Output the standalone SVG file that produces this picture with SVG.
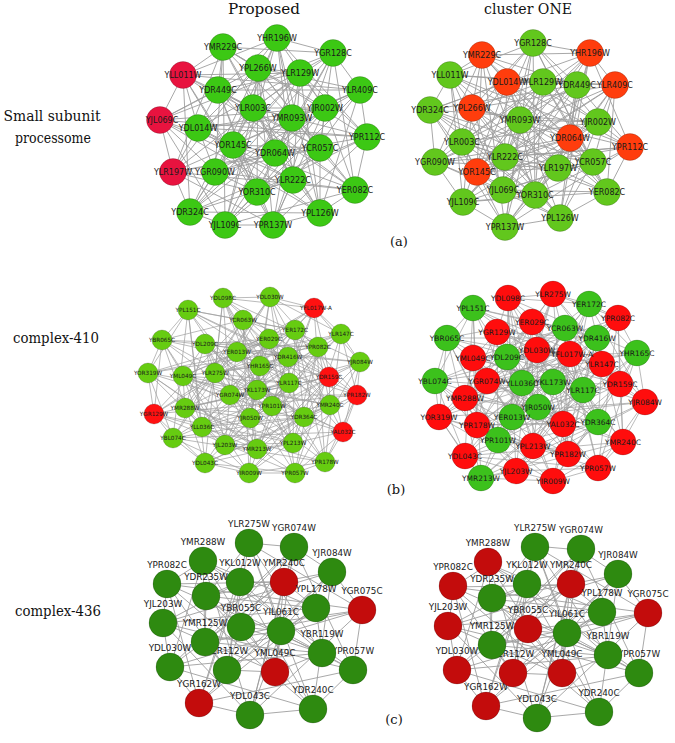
<svg xmlns="http://www.w3.org/2000/svg" width="675" height="743" viewBox="0 0 675 743">
<style>
.e{fill:none;stroke:#9e9e9e;stroke-width:0.9;stroke-linejoin:round}
.eb{stroke-width:0.7}
circle{stroke:#000;stroke-opacity:.22;stroke-width:.8}
text.t{font-family:"DejaVu Sans","Liberation Sans",sans-serif;fill:#1a1a1a;text-anchor:middle}
.ta text{font-size:8px}
.tbl text{font-size:5.7px}
.tbr text{font-size:7.5px}
.tc text{font-size:8.8px}
.h{font-family:"DejaVu Serif","Liberation Serif",serif;font-size:15.5px;fill:#111;text-anchor:middle}
.gA{fill:#3cc814}.rA{fill:#e8133f}
.gA2{fill:#62c71d}.rA2{fill:#ff3d0d}
.gB{fill:#66cc11}.rB{fill:#ff1111}
.gB2{fill:#3cc11c}.rB2{fill:#ff0d0d}
.gC{fill:#2e8a10}.rC{fill:#c30c0c}
</style>
<rect width="675" height="743" fill="#fff"/>
<g id="headings">
<text class="h" x="264" y="14" textLength="72" lengthAdjust="spacingAndGlyphs">Proposed</text>
<text class="h" x="528" y="14" textLength="88" lengthAdjust="spacingAndGlyphs">cluster ONE</text>
<text class="h" x="52" y="121" textLength="97" lengthAdjust="spacingAndGlyphs">Small subunit</text>
<text class="h" x="53" y="143" textLength="76" lengthAdjust="spacingAndGlyphs">processome</text>
<text class="h" x="56" y="343" textLength="86" lengthAdjust="spacingAndGlyphs">complex-410</text>
<text class="h" x="58" y="616" textLength="86" lengthAdjust="spacingAndGlyphs">complex-436</text>
<text class="h" x="399" y="246" style="font-size:13px">(a)</text>
<text class="h" x="396" y="494" style="font-size:13px">(b)</text>
<text class="h" x="394" y="724" style="font-size:13px">(c)</text>
</g>
<g id="connectors">
<path id="edges-a-left" class="e" d="M277 38L333 53L360 90L367 137L355 190L320 213L273 225L225 225L190 212L173 172L160 120L183 75L223 47L258 68L300 73L325 108L320 148L293 180L257 192L215 172L198 128L218 90L253 108L292 118L275 153L233 145Z
M277 38L367 137L273 225L173 172L223 47L325 108L257 192L218 90L275 153L333 53L355 190L225 225L160 120L258 68L320 148L215 172L253 108L233 145L360 90L320 213L190 212L183 75L300 73L293 180L198 128L292 118Z
M277 38L320 213L160 120L325 108L198 128L233 145L355 190L173 172L300 73L215 172L275 153L367 137L190 212L258 68L257 192L292 118L360 90L225 225L223 47L293 180L253 108L333 53L273 225L183 75L320 148L218 90Z
M277 38L225 225L300 73L218 90L360 90L173 172L320 148L292 118L355 190L183 75L257 192L233 145L273 225L258 68L198 128L333 53L190 212L325 108L253 108L367 137L160 120L293 180L275 153L320 213L223 47L215 172Z
M277 38L173 172L257 192L333 53L160 120L215 172L360 90L183 75L198 128L367 137L223 47L218 90L355 190L258 68L253 108L320 213L300 73L292 118L273 225L325 108L275 153L225 225L320 148L233 145L190 212L293 180Z
M277 38L183 75L253 108L225 225L257 192L367 137L300 73L233 145L160 120L218 90L273 225L293 180L360 90L258 68L275 153L173 172L198 128L320 213L320 148L333 53L223 47L292 118L190 212L215 172L355 190L325 108Z"/>
<path id="edges-a-right" class="e" d="M533 43L590 53L615 85L598 122L630 147L607 192L560 218L505 227L463 202L435 162L430 110L450 75L482 55L507 82L543 82L577 85L570 138L593 162L558 168L535 195L503 190L477 172L462 142L472 108L520 120L505 157Z
M533 43L598 122L560 218L435 162L482 55L577 85L558 168L477 172L520 120L590 53L630 147L505 227L430 110L507 82L570 138L535 195L462 142L505 157L615 85L607 192L463 202L450 75L543 82L593 162L503 190L472 108Z
M533 43L607 192L430 110L577 85L503 190L505 157L630 147L435 162L543 82L535 195L520 120L598 122L463 202L507 82L558 168L472 108L615 85L505 227L482 55L593 162L462 142L590 53L560 218L450 75L570 138L477 172Z
M533 43L505 227L543 82L477 172L615 85L435 162L570 138L472 108L630 147L450 75L558 168L505 157L560 218L507 82L503 190L590 53L463 202L577 85L462 142L598 122L430 110L593 162L520 120L607 192L482 55L535 195Z
M533 43L435 162L558 168L590 53L430 110L535 195L615 85L450 75L503 190L598 122L482 55L477 172L630 147L507 82L462 142L607 192L543 82L472 108L560 218L577 85L520 120L505 227L570 138L505 157L463 202L593 162Z
M533 43L450 75L462 142L505 227L558 168L598 122L543 82L505 157L430 110L477 172L560 218L593 162L615 85L507 82L520 120L435 162L503 190L607 192L570 138L590 53L482 55L472 108L463 202L535 195L630 147L577 85Z"/>
<path id="edges-b-left" class="e eb" d="M223 298L270 297L314 308L341 334L360 362L357 395L343 432L325 462L295 473L249 473L205 463L173 438L154 414L148 373L162 340L188 310L243 320L295 330L318 347L329 377L330 405L304 417L293 443L257 449L225 445L202 427L185 408L183 376L205 344L269 339L288 357L289 383L272 406L250 418L230 395L215 373L237 352L260 366L257 390Z
M223 298L314 308L360 362L343 432L295 473L205 463L154 414L162 340L243 320L318 347L330 405L293 443L225 445L185 408L205 344L288 357L272 406L230 395L237 352L257 390L270 297L341 334L357 395L325 462L249 473L173 438L148 373L188 310L295 330L329 377L304 417L257 449L202 427L183 376L269 339L289 383L250 418L215 373L260 366Z
M223 298L360 362L295 473L154 414L243 320L330 405L225 445L205 344L272 406L237 352L270 297L357 395L249 473L148 373L295 330L304 417L202 427L269 339L250 418L260 366L314 308L343 432L205 463L162 340L318 347L293 443L185 408L288 357L230 395L257 390L341 334L325 462L173 438L188 310L329 377L257 449L183 376L289 383L215 373Z
M223 298L357 395L205 463L188 310L330 405L202 427L288 357L215 373L270 297L343 432L173 438L243 320L304 417L185 408L289 383L237 352L314 308L325 462L154 414L295 330L293 443L183 376L272 406L260 366L341 334L295 473L148 373L318 347L257 449L205 344L250 418L257 390L360 362L249 473L162 340L329 377L225 445L269 339L230 395Z
M223 298L325 462L162 340L304 417L205 344L215 373L341 334L205 463L295 330L225 445L289 383L257 390L343 432L148 373L330 405L183 376L230 395L314 308L249 473L243 320L257 449L288 357L260 366L357 395L154 414L329 377L185 408L250 418L270 297L295 473L188 310L293 443L269 339L237 352L360 362L173 438L318 347L202 427L272 406Z
M223 298L205 463L330 405L288 357L270 297L173 438L304 417L289 383L314 308L154 414L293 443L272 406L341 334L148 373L257 449L250 418L360 362L162 340L225 445L230 395L357 395L188 310L202 427L215 373L343 432L243 320L185 408L237 352L325 462L295 330L183 376L260 366L295 473L318 347L205 344L257 390L249 473L329 377L269 339Z"/>
<path id="edges-b-right" class="e eb" d="M508 298L553 294L589 304L618 318L637 353L620 384L645 402L623 442L598 468L553 481L516 471L481 478L465 456L439 417L435 381L447 338L473 308L532 322L565 328L597 338L602 364L583 390L598 422L568 454L533 446L498 440L477 425L465 398L473 358L497 332L537 350L570 354L553 382L563 424L538 407L512 417L487 381L522 383L507 357Z
M508 298L589 304L637 353L645 402L598 468L516 471L465 456L435 381L473 308L565 328L602 364L598 422L533 446L477 425L473 358L537 350L553 382L538 407L487 381L507 357L553 294L618 318L620 384L623 442L553 481L481 478L439 417L447 338L532 322L597 338L583 390L568 454L498 440L465 398L497 332L570 354L563 424L512 417L522 383Z
M508 298L637 353L598 468L465 456L473 308L602 364L533 446L473 358L553 382L487 381L553 294L620 384L553 481L439 417L532 322L583 390L498 440L497 332L563 424L522 383L589 304L645 402L516 471L435 381L565 328L598 422L477 425L537 350L538 407L507 357L618 318L623 442L481 478L447 338L597 338L568 454L465 398L570 354L512 417Z
M508 298L620 384L516 471L447 338L602 364L498 440L537 350L512 417L553 294L645 402L481 478L473 308L583 390L477 425L570 354L487 381L589 304L623 442L465 456L532 322L598 422L465 398L553 382L522 383L618 318L598 468L439 417L565 328L568 454L473 358L563 424L507 357L637 353L553 481L435 381L597 338L533 446L497 332L538 407Z
M508 298L623 442L435 381L583 390L473 358L512 417L618 318L516 471L532 322L533 446L570 354L507 357L645 402L439 417L602 364L465 398L538 407L589 304L553 481L473 308L568 454L537 350L522 383L620 384L465 456L597 338L477 425L563 424L553 294L598 468L447 338L598 422L497 332L487 381L637 353L481 478L565 328L498 440L553 382Z
M508 298L516 471L602 364L537 350L553 294L481 478L583 390L570 354L589 304L465 456L598 422L553 382L618 318L439 417L568 454L563 424L637 353L435 381L533 446L538 407L620 384L447 338L498 440L512 417L645 402L473 308L477 425L487 381L623 442L532 322L465 398L522 383L598 468L565 328L473 358L507 357L553 481L597 338L497 332Z"/>
<path id="edges-c-left" class="e" d="M249 543L294 547L332 572L362 610L353 670L313 709L250 715L199 703L170 667L163 623L167 584L203 561L240 582L284 582L316 608L322 653L275 672L227 670L205 642L206 596L241 627L281 631Z
M249 543L362 610L250 715L163 623L240 582L322 653L205 642L281 631L332 572L313 709L170 667L203 561L316 608L227 670L241 627L294 547L353 670L199 703L167 584L284 582L275 672L206 596Z
M249 543L313 709L167 584L322 653L241 627L362 610L170 667L284 582L205 642L294 547L250 715L203 561L275 672L281 631L353 670L163 623L316 608L206 596L332 572L199 703L240 582L227 670Z
M249 543L199 703L316 608L281 631L250 715L284 582L241 627L313 709L240 582L206 596L353 670L203 561L205 642L362 610L167 584L227 670L332 572L163 623L275 672L294 547L170 667L322 653Z"/>
<use id="edges-c-right" href="#edges-c-left" transform="translate(286 3)"/>
</g>
<g id="nodes-a-left" class="ta">
<g id="aL-YHR196W"><circle class="gA" cx="277" cy="38" r="13.5"/><text class="t" x="277" y="41">YHR196W</text></g>
<g id="aL-YGR128C"><circle class="gA" cx="333" cy="53" r="13.5"/><text class="t" x="333" y="56">YGR128C</text></g>
<g id="aL-YLR409C"><circle class="gA" cx="360" cy="90" r="13.5"/><text class="t" x="360" y="93">YLR409C</text></g>
<g id="aL-YPR112C"><circle class="gA" cx="367" cy="137" r="13.5"/><text class="t" x="367" y="140">YPR112C</text></g>
<g id="aL-YER082C"><circle class="gA" cx="355" cy="190" r="13.5"/><text class="t" x="355" y="193">YER082C</text></g>
<g id="aL-YPL126W"><circle class="gA" cx="320" cy="213" r="13.5"/><text class="t" x="320" y="216">YPL126W</text></g>
<g id="aL-YPR137W"><circle class="gA" cx="273" cy="225" r="13.5"/><text class="t" x="273" y="228">YPR137W</text></g>
<g id="aL-YJL109C"><circle class="gA" cx="225" cy="225" r="13.5"/><text class="t" x="225" y="228">YJL109C</text></g>
<g id="aL-YDR324C"><circle class="gA" cx="190" cy="212" r="13.5"/><text class="t" x="190" y="215">YDR324C</text></g>
<g id="aL-YLR197W"><circle class="rA" cx="173" cy="172" r="13.5"/><text class="t" x="173" y="175">YLR197W</text></g>
<g id="aL-YJL069C"><circle class="rA" cx="160" cy="120" r="13.5"/><text class="t" x="162" y="123">YJL069C</text></g>
<g id="aL-YLL011W"><circle class="rA" cx="183" cy="75" r="13.5"/><text class="t" x="183" y="78">YLL011W</text></g>
<g id="aL-YMR229C"><circle class="gA" cx="223" cy="47" r="13.5"/><text class="t" x="223" y="50">YMR229C</text></g>
<g id="aL-YPL266W"><circle class="gA" cx="258" cy="68" r="13.5"/><text class="t" x="258" y="71">YPL266W</text></g>
<g id="aL-YLR129W"><circle class="gA" cx="300" cy="73" r="13.5"/><text class="t" x="300" y="76">YLR129W</text></g>
<g id="aL-YJR002W"><circle class="gA" cx="325" cy="108" r="13.5"/><text class="t" x="325" y="111">YJR002W</text></g>
<g id="aL-YCR057C"><circle class="gA" cx="320" cy="148" r="13.5"/><text class="t" x="320" y="151">YCR057C</text></g>
<g id="aL-YLR222C"><circle class="gA" cx="293" cy="180" r="13.5"/><text class="t" x="293" y="183">YLR222C</text></g>
<g id="aL-YOR310C"><circle class="gA" cx="257" cy="192" r="13.5"/><text class="t" x="257" y="195">YOR310C</text></g>
<g id="aL-YGR090W"><circle class="gA" cx="215" cy="172" r="13.5"/><text class="t" x="215" y="175">YGR090W</text></g>
<g id="aL-YDL014W"><circle class="gA" cx="198" cy="128" r="13.5"/><text class="t" x="198" y="131">YDL014W</text></g>
<g id="aL-YDR449C"><circle class="gA" cx="218" cy="90" r="13.5"/><text class="t" x="218" y="93">YDR449C</text></g>
<g id="aL-YLR003C"><circle class="gA" cx="253" cy="108" r="13.5"/><text class="t" x="253" y="111">YLR003C</text></g>
<g id="aL-YMR093W"><circle class="gA" cx="292" cy="118" r="13.5"/><text class="t" x="292" y="121">YMR093W</text></g>
<g id="aL-YDR064W"><circle class="gA" cx="275" cy="153" r="13.5"/><text class="t" x="275" y="156">YDR064W</text></g>
<g id="aL-YOR145C"><circle class="gA" cx="233" cy="145" r="13.5"/><text class="t" x="233" y="148">YOR145C</text></g>
</g>
<g id="nodes-a-right" class="ta">
<g id="aR-YGR128C"><circle class="gA2" cx="533" cy="43" r="13.5"/><text class="t" x="533" y="46">YGR128C</text></g>
<g id="aR-YHR196W"><circle class="rA2" cx="590" cy="53" r="13.5"/><text class="t" x="590" y="56">YHR196W</text></g>
<g id="aR-YLR409C"><circle class="rA2" cx="615" cy="85" r="13.5"/><text class="t" x="615" y="88">YLR409C</text></g>
<g id="aR-YJR002W"><circle class="gA2" cx="598" cy="122" r="13.5"/><text class="t" x="598" y="125">YJR002W</text></g>
<g id="aR-YPR112C"><circle class="rA2" cx="630" cy="147" r="13.5"/><text class="t" x="630" y="150">YPR112C</text></g>
<g id="aR-YER082C"><circle class="gA2" cx="607" cy="192" r="13.5"/><text class="t" x="607" y="195">YER082C</text></g>
<g id="aR-YPL126W"><circle class="gA2" cx="560" cy="218" r="13.5"/><text class="t" x="560" y="221">YPL126W</text></g>
<g id="aR-YPR137W"><circle class="gA2" cx="505" cy="227" r="13.5"/><text class="t" x="505" y="230">YPR137W</text></g>
<g id="aR-YJL109C"><circle class="gA2" cx="463" cy="202" r="13.5"/><text class="t" x="463" y="205">YJL109C</text></g>
<g id="aR-YGR090W"><circle class="gA2" cx="435" cy="162" r="13.5"/><text class="t" x="435" y="165">YGR090W</text></g>
<g id="aR-YDR324C"><circle class="gA2" cx="430" cy="110" r="13.5"/><text class="t" x="430" y="113">YDR324C</text></g>
<g id="aR-YLL011W"><circle class="gA2" cx="450" cy="75" r="13.5"/><text class="t" x="450" y="78">YLL011W</text></g>
<g id="aR-YMR229C"><circle class="rA2" cx="482" cy="55" r="13.5"/><text class="t" x="482" y="58">YMR229C</text></g>
<g id="aR-YLR129W"><circle class="gA2" cx="543" cy="82" r="13.5"/><text class="t" x="543" y="85">YLR129W</text></g>
<g id="aR-YDL014W"><circle class="rA2" cx="507" cy="82" r="13.5"/><text class="t" x="507" y="85">YDL014W</text></g>
<g id="aR-YDR449C"><circle class="gA2" cx="577" cy="85" r="13.5"/><text class="t" x="577" y="88">YDR449C</text></g>
<g id="aR-YDR064W"><circle class="rA2" cx="570" cy="138" r="13.5"/><text class="t" x="570" y="141">YDR064W</text></g>
<g id="aR-YCR057C"><circle class="gA2" cx="593" cy="162" r="13.5"/><text class="t" x="593" y="165">YCR057C</text></g>
<g id="aR-YLR197W"><circle class="gA2" cx="558" cy="168" r="13.5"/><text class="t" x="558" y="171">YLR197W</text></g>
<g id="aR-YOR310C"><circle class="gA2" cx="535" cy="195" r="13.5"/><text class="t" x="535" y="198">YOR310C</text></g>
<g id="aR-YJL069C"><circle class="gA2" cx="503" cy="190" r="13.5"/><text class="t" x="503" y="193">YJL069C</text></g>
<g id="aR-YOR145C"><circle class="rA2" cx="477" cy="172" r="13.5"/><text class="t" x="477" y="175">YOR145C</text></g>
<g id="aR-YLR003C"><circle class="gA2" cx="462" cy="142" r="13.5"/><text class="t" x="462" y="145">YLR003C</text></g>
<g id="aR-YPL266W"><circle class="rA2" cx="472" cy="108" r="13.5"/><text class="t" x="472" y="111">YPL266W</text></g>
<g id="aR-YMR093W"><circle class="gA2" cx="520" cy="120" r="13.5"/><text class="t" x="520" y="123">YMR093W</text></g>
<g id="aR-YLR222C"><circle class="gA2" cx="505" cy="157" r="13.5"/><text class="t" x="505" y="160">YLR222C</text></g>
</g>
<g id="nodes-b-left" class="tbl">
<g id="bL-YDL098C"><circle class="gB" cx="223" cy="298" r="10"/><text class="t" x="223" y="300">YDL098C</text></g>
<g id="bL-YDL030W"><circle class="gB" cx="270" cy="297" r="10"/><text class="t" x="270" y="299">YDL030W</text></g>
<g id="bL-YFL017W-A"><circle class="rB" cx="314" cy="308" r="10"/><text class="t" x="316" y="310">YFL017W-A</text></g>
<g id="bL-YLR147C"><circle class="gB" cx="341" cy="334" r="10"/><text class="t" x="341" y="336">YLR147C</text></g>
<g id="bL-YJR084W"><circle class="gB" cx="360" cy="362" r="10"/><text class="t" x="360" y="364">YJR084W</text></g>
<g id="bL-YPR182W"><circle class="rB" cx="357" cy="395" r="10"/><text class="t" x="357" y="397">YPR182W</text></g>
<g id="bL-YAL032C"><circle class="rB" cx="343" cy="432" r="10"/><text class="t" x="343" y="434">YAL032C</text></g>
<g id="bL-YPR178W"><circle class="gB" cx="325" cy="462" r="10"/><text class="t" x="325" y="464">YPR178W</text></g>
<g id="bL-YPR057W"><circle class="gB" cx="295" cy="473" r="10"/><text class="t" x="295" y="475">YPR057W</text></g>
<g id="bL-YIR009W"><circle class="gB" cx="249" cy="473" r="10"/><text class="t" x="249" y="475">YIR009W</text></g>
<g id="bL-YDL043C"><circle class="gB" cx="205" cy="463" r="10"/><text class="t" x="205" y="465">YDL043C</text></g>
<g id="bL-YBL074C"><circle class="gB" cx="173" cy="438" r="10"/><text class="t" x="173" y="440">YBL074C</text></g>
<g id="bL-YGR129W"><circle class="rB" cx="154" cy="414" r="10"/><text class="t" x="154" y="416">YGR129W</text></g>
<g id="bL-YOR319W"><circle class="gB" cx="148" cy="373" r="10"/><text class="t" x="148" y="375">YOR319W</text></g>
<g id="bL-YBR065C"><circle class="gB" cx="162" cy="340" r="10"/><text class="t" x="162" y="342">YBR065C</text></g>
<g id="bL-YPL151C"><circle class="gB" cx="188" cy="310" r="10"/><text class="t" x="188" y="312">YPL151C</text></g>
<g id="bL-YCR063W"><circle class="gB" cx="243" cy="320" r="10"/><text class="t" x="243" y="322">YCR063W</text></g>
<g id="bL-YER172C"><circle class="gB" cx="295" cy="330" r="10"/><text class="t" x="295" y="332">YER172C</text></g>
<g id="bL-YPR082C"><circle class="gB" cx="318" cy="347" r="10"/><text class="t" x="318" y="349">YPR082C</text></g>
<g id="bL-YDR159C"><circle class="rB" cx="329" cy="377" r="10"/><text class="t" x="329" y="379">YDR159C</text></g>
<g id="bL-YMR240C"><circle class="gB" cx="330" cy="405" r="10"/><text class="t" x="330" y="407">YMR240C</text></g>
<g id="bL-YDR364C"><circle class="gB" cx="304" cy="417" r="10"/><text class="t" x="304" y="419">YDR364C</text></g>
<g id="bL-YPL213W"><circle class="gB" cx="293" cy="443" r="10"/><text class="t" x="293" y="445">YPL213W</text></g>
<g id="bL-YMR213W"><circle class="gB" cx="257" cy="449" r="10"/><text class="t" x="257" y="451">YMR213W</text></g>
<g id="bL-YJL203W"><circle class="gB" cx="225" cy="445" r="10"/><text class="t" x="225" y="447">YJL203W</text></g>
<g id="bL-YLL036C"><circle class="gB" cx="202" cy="427" r="10"/><text class="t" x="202" y="429">YLL036C</text></g>
<g id="bL-YMR288W"><circle class="gB" cx="185" cy="408" r="10"/><text class="t" x="185" y="410">YMR288W</text></g>
<g id="bL-YML049C"><circle class="gB" cx="183" cy="376" r="10"/><text class="t" x="183" y="378">YML049C</text></g>
<g id="bL-YDL209C"><circle class="gB" cx="205" cy="344" r="10"/><text class="t" x="205" y="346">YDL209C</text></g>
<g id="bL-YER029C"><circle class="gB" cx="269" cy="339" r="10"/><text class="t" x="269" y="341">YER029C</text></g>
<g id="bL-YDR416W"><circle class="gB" cx="288" cy="357" r="10"/><text class="t" x="288" y="359">YDR416W</text></g>
<g id="bL-YLR117C"><circle class="gB" cx="289" cy="383" r="10"/><text class="t" x="289" y="385">YLR117C</text></g>
<g id="bL-YPR101W"><circle class="gB" cx="272" cy="406" r="10"/><text class="t" x="272" y="408">YPR101W</text></g>
<g id="bL-YJR050W"><circle class="gB" cx="250" cy="418" r="10"/><text class="t" x="250" y="420">YJR050W</text></g>
<g id="bL-YGR074W"><circle class="gB" cx="230" cy="395" r="10"/><text class="t" x="230" y="397">YGR074W</text></g>
<g id="bL-YLR275W"><circle class="gB" cx="215" cy="373" r="10"/><text class="t" x="215" y="375">YLR275W</text></g>
<g id="bL-YER013W"><circle class="gB" cx="237" cy="352" r="10"/><text class="t" x="237" y="354">YER013W</text></g>
<g id="bL-YHR165C"><circle class="gB" cx="260" cy="366" r="10"/><text class="t" x="260" y="368">YHR165C</text></g>
<g id="bL-YKL173W"><circle class="gB" cx="257" cy="390" r="10"/><text class="t" x="257" y="392">YKL173W</text></g>
</g>
<g id="nodes-b-right" class="tbr">
<g id="bR-YDL098C"><circle class="rB2" cx="508" cy="298" r="13"/><text class="t" x="508" y="301">YDL098C</text></g>
<g id="bR-YLR275W"><circle class="rB2" cx="553" cy="294" r="13"/><text class="t" x="553" y="297">YLR275W</text></g>
<g id="bR-YER172C"><circle class="gB2" cx="589" cy="304" r="13"/><text class="t" x="589" y="307">YER172C</text></g>
<g id="bR-YPR082C"><circle class="rB2" cx="618" cy="318" r="13"/><text class="t" x="618" y="321">YPR082C</text></g>
<g id="bR-YHR165C"><circle class="gB2" cx="637" cy="353" r="13"/><text class="t" x="637" y="356">YHR165C</text></g>
<g id="bR-YDR159C"><circle class="rB2" cx="620" cy="384" r="13"/><text class="t" x="620" y="387">YDR159C</text></g>
<g id="bR-YJR084W"><circle class="rB2" cx="645" cy="402" r="13"/><text class="t" x="645" y="405">YJR084W</text></g>
<g id="bR-YMR240C"><circle class="rB2" cx="623" cy="442" r="13"/><text class="t" x="623" y="445">YMR240C</text></g>
<g id="bR-YPR057W"><circle class="rB2" cx="598" cy="468" r="13"/><text class="t" x="598" y="471">YPR057W</text></g>
<g id="bR-YIR009W"><circle class="rB2" cx="553" cy="481" r="13"/><text class="t" x="553" y="484">YIR009W</text></g>
<g id="bR-YJL203W"><circle class="rB2" cx="516" cy="471" r="13"/><text class="t" x="516" y="474">YJL203W</text></g>
<g id="bR-YMR213W"><circle class="gB2" cx="481" cy="478" r="13"/><text class="t" x="481" y="481">YMR213W</text></g>
<g id="bR-YDL043C"><circle class="rB2" cx="465" cy="456" r="13"/><text class="t" x="465" y="459">YDL043C</text></g>
<g id="bR-YOR319W"><circle class="rB2" cx="439" cy="417" r="13"/><text class="t" x="439" y="420">YOR319W</text></g>
<g id="bR-YBL074C"><circle class="gB2" cx="435" cy="381" r="13"/><text class="t" x="435" y="384">YBL074C</text></g>
<g id="bR-YBR065C"><circle class="gB2" cx="447" cy="338" r="13"/><text class="t" x="447" y="341">YBR065C</text></g>
<g id="bR-YPL151C"><circle class="gB2" cx="473" cy="308" r="13"/><text class="t" x="473" y="311">YPL151C</text></g>
<g id="bR-YER029C"><circle class="rB2" cx="532" cy="322" r="13"/><text class="t" x="532" y="325">YER029C</text></g>
<g id="bR-YCR063W"><circle class="gB2" cx="565" cy="328" r="13"/><text class="t" x="565" y="331">YCR063W</text></g>
<g id="bR-YDR416W"><circle class="gB2" cx="597" cy="338" r="13"/><text class="t" x="597" y="341">YDR416W</text></g>
<g id="bR-YLR147C"><circle class="rB2" cx="602" cy="364" r="13"/><text class="t" x="602" y="367">YLR147C</text></g>
<g id="bR-YLR117C"><circle class="gB2" cx="583" cy="390" r="13"/><text class="t" x="583" y="393">YLR117C</text></g>
<g id="bR-YDR364C"><circle class="gB2" cx="598" cy="422" r="13"/><text class="t" x="598" y="425">YDR364C</text></g>
<g id="bR-YPR182W"><circle class="rB2" cx="568" cy="454" r="13"/><text class="t" x="568" y="457">YPR182W</text></g>
<g id="bR-YPL213W"><circle class="rB2" cx="533" cy="446" r="13"/><text class="t" x="533" y="449">YPL213W</text></g>
<g id="bR-YPR101W"><circle class="gB2" cx="498" cy="440" r="13"/><text class="t" x="498" y="443">YPR101W</text></g>
<g id="bR-YPR178W"><circle class="rB2" cx="477" cy="425" r="13"/><text class="t" x="477" y="428">YPR178W</text></g>
<g id="bR-YMR288W"><circle class="rB2" cx="465" cy="398" r="13"/><text class="t" x="465" y="401">YMR288W</text></g>
<g id="bR-YML049C"><circle class="rB2" cx="473" cy="358" r="13"/><text class="t" x="473" y="361">YML049C</text></g>
<g id="bR-YGR129W"><circle class="rB2" cx="497" cy="332" r="13"/><text class="t" x="497" y="335">YGR129W</text></g>
<g id="bR-YDL030W"><circle class="rB2" cx="537" cy="350" r="13"/><text class="t" x="537" y="353">YDL030W</text></g>
<g id="bR-YFL017W-A"><circle class="rB2" cx="570" cy="354" r="13"/><text class="t" x="572" y="357">YFL017W-A</text></g>
<g id="bR-YKL173W"><circle class="gB2" cx="553" cy="382" r="13"/><text class="t" x="553" y="385">YKL173W</text></g>
<g id="bR-YAL032C"><circle class="rB2" cx="563" cy="424" r="13"/><text class="t" x="563" y="427">YAL032C</text></g>
<g id="bR-YJR050W"><circle class="gB2" cx="538" cy="407" r="13"/><text class="t" x="538" y="410">YJR050W</text></g>
<g id="bR-YER013W"><circle class="gB2" cx="512" cy="417" r="13"/><text class="t" x="512" y="420">YER013W</text></g>
<g id="bR-YGR074W"><circle class="rB2" cx="487" cy="381" r="13"/><text class="t" x="487" y="384">YGR074W</text></g>
<g id="bR-YLL036C"><circle class="gB2" cx="522" cy="383" r="13"/><text class="t" x="522" y="386">YLL036C</text></g>
<g id="bR-YDL209C"><circle class="gB2" cx="507" cy="357" r="13"/><text class="t" x="507" y="360">YDL209C</text></g>
</g>
<g id="nodes-c-left" class="tc">
<g id="cL-YLR275W"><circle class="gC" cx="249" cy="543" r="14"/><text class="t" x="249" y="527">YLR275W</text></g>
<g id="cL-YGR074W"><circle class="gC" cx="294" cy="547" r="14"/><text class="t" x="294" y="531">YGR074W</text></g>
<g id="cL-YJR084W"><circle class="gC" cx="332" cy="572" r="14"/><text class="t" x="332" y="556">YJR084W</text></g>
<g id="cL-YGR075C"><circle class="rC" cx="362" cy="610" r="14"/><text class="t" x="362" y="594">YGR075C</text></g>
<g id="cL-YPR057W"><circle class="gC" cx="353" cy="670" r="14"/><text class="t" x="353" y="654">YPR057W</text></g>
<g id="cL-YDR240C"><circle class="gC" cx="313" cy="709" r="14"/><text class="t" x="313" y="693">YDR240C</text></g>
<g id="cL-YDL043C"><circle class="gC" cx="250" cy="715" r="14"/><text class="t" x="250" y="699">YDL043C</text></g>
<g id="cL-YGR162W"><circle class="rC" cx="199" cy="703" r="14"/><text class="t" x="199" y="687">YGR162W</text></g>
<g id="cL-YDL030W"><circle class="gC" cx="170" cy="667" r="14"/><text class="t" x="170" y="651">YDL030W</text></g>
<g id="cL-YJL203W"><circle class="gC" cx="163" cy="623" r="14"/><text class="t" x="163" y="607">YJL203W</text></g>
<g id="cL-YPR082C"><circle class="gC" cx="167" cy="584" r="14"/><text class="t" x="167" y="568">YPR082C</text></g>
<g id="cL-YMR288W"><circle class="gC" cx="203" cy="561" r="14"/><text class="t" x="203" y="545">YMR288W</text></g>
<g id="cL-YKL012W"><circle class="gC" cx="240" cy="582" r="14"/><text class="t" x="240" y="566">YKL012W</text></g>
<g id="cL-YMR240C"><circle class="rC" cx="284" cy="582" r="14"/><text class="t" x="284" y="566">YMR240C</text></g>
<g id="cL-YPL178W"><circle class="gC" cx="316" cy="608" r="14"/><text class="t" x="316" y="592">YPL178W</text></g>
<g id="cL-YBR119W"><circle class="gC" cx="322" cy="653" r="14"/><text class="t" x="322" y="637">YBR119W</text></g>
<g id="cL-YML049C"><circle class="rC" cx="275" cy="672" r="14"/><text class="t" x="275" y="656">YML049C</text></g>
<g id="cL-YER112W"><circle class="gC" cx="227" cy="670" r="14"/><text class="t" x="227" y="654">YER112W</text></g>
<g id="cL-YMR125W"><circle class="gC" cx="205" cy="642" r="14"/><text class="t" x="205" y="626">YMR125W</text></g>
<g id="cL-YDR235W"><circle class="gC" cx="206" cy="596" r="14"/><text class="t" x="206" y="580">YDR235W</text></g>
<g id="cL-YBR055C"><circle class="gC" cx="241" cy="627" r="14"/><text class="t" x="241" y="611">YBR055C</text></g>
<g id="cL-YIL061C"><circle class="gC" cx="281" cy="631" r="14"/><text class="t" x="281" y="615">YIL061C</text></g>
</g>
<g id="nodes-c-right" class="tc">
<g id="cR-YLR275W"><circle class="gC" cx="535" cy="547" r="14"/><text class="t" x="535" y="531">YLR275W</text></g>
<g id="cR-YGR074W"><circle class="gC" cx="581" cy="549" r="14"/><text class="t" x="581" y="533">YGR074W</text></g>
<g id="cR-YJR084W"><circle class="gC" cx="618" cy="574" r="14"/><text class="t" x="618" y="558">YJR084W</text></g>
<g id="cR-YGR075C"><circle class="rC" cx="648" cy="613" r="14"/><text class="t" x="648" y="597">YGR075C</text></g>
<g id="cR-YPR057W"><circle class="gC" cx="639" cy="673" r="14"/><text class="t" x="639" y="657">YPR057W</text></g>
<g id="cR-YDR240C"><circle class="gC" cx="599" cy="712" r="14"/><text class="t" x="599" y="696">YDR240C</text></g>
<g id="cR-YDL043C"><circle class="gC" cx="537" cy="718" r="14"/><text class="t" x="537" y="702">YDL043C</text></g>
<g id="cR-YGR162W"><circle class="rC" cx="486" cy="706" r="14"/><text class="t" x="486" y="690">YGR162W</text></g>
<g id="cR-YDL030W"><circle class="rC" cx="457" cy="670" r="14"/><text class="t" x="457" y="654">YDL030W</text></g>
<g id="cR-YJL203W"><circle class="rC" cx="448" cy="626" r="14"/><text class="t" x="448" y="610">YJL203W</text></g>
<g id="cR-YPR082C"><circle class="rC" cx="453" cy="586" r="14"/><text class="t" x="453" y="570">YPR082C</text></g>
<g id="cR-YMR288W"><circle class="rC" cx="488" cy="562" r="14"/><text class="t" x="488" y="546">YMR288W</text></g>
<g id="cR-YKL012W"><circle class="gC" cx="527" cy="584" r="14"/><text class="t" x="527" y="568">YKL012W</text></g>
<g id="cR-YMR240C"><circle class="rC" cx="571" cy="584" r="14"/><text class="t" x="571" y="568">YMR240C</text></g>
<g id="cR-YPL178W"><circle class="gC" cx="602" cy="612" r="14"/><text class="t" x="602" y="596">YPL178W</text></g>
<g id="cR-YBR119W"><circle class="gC" cx="608" cy="655" r="14"/><text class="t" x="608" y="639">YBR119W</text></g>
<g id="cR-YML049C"><circle class="rC" cx="562" cy="673" r="14"/><text class="t" x="562" y="657">YML049C</text></g>
<g id="cR-YER112W"><circle class="rC" cx="513" cy="673" r="14"/><text class="t" x="513" y="657">YER112W</text></g>
<g id="cR-YMR125W"><circle class="gC" cx="492" cy="645" r="14"/><text class="t" x="492" y="629">YMR125W</text></g>
<g id="cR-YDR235W"><circle class="gC" cx="492" cy="598" r="14"/><text class="t" x="492" y="582">YDR235W</text></g>
<g id="cR-YBR055C"><circle class="rC" cx="528" cy="629" r="14"/><text class="t" x="528" y="613">YBR055C</text></g>
<g id="cR-YIL061C"><circle class="gC" cx="567" cy="633" r="14"/><text class="t" x="567" y="617">YIL061C</text></g>
</g>
</svg>
